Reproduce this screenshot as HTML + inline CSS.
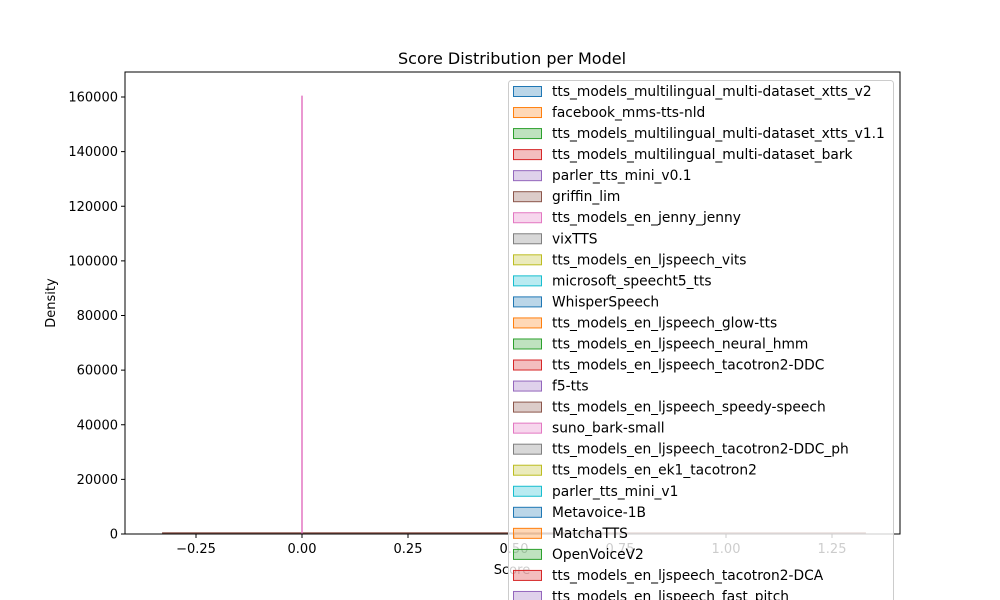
<!DOCTYPE html>
<html><head><meta charset="utf-8"><style>
html,body{margin:0;background:#fff;overflow:hidden;width:1000px;height:600px}
svg{font-family:"DejaVu Sans","Liberation Sans",sans-serif;display:block;overflow:hidden}
</style></head><body>
<svg id="chart" width="1000" height="600" viewBox="0 0 1000 600" xmlns="http://www.w3.org/2000/svg">
<rect width="1000" height="600" fill="#fff"/>
<text x="512" y="64" font-size="16" text-anchor="middle">Score Distribution per Model</text>
<g id="plot"></g>
<text x="512" y="574" font-size="13" text-anchor="middle">Score</text>
<text x="55" y="303" font-size="13" text-anchor="middle" transform="rotate(-90 55 303)">Density</text>
<g id="legend"></g>
</svg>
<script>
const models=["tts_models_multilingual_multi-dataset_xtts_v2","facebook_mms-tts-nld","tts_models_multilingual_multi-dataset_xtts_v1.1","tts_models_multilingual_multi-dataset_bark","parler_tts_mini_v0.1","griffin_lim","tts_models_en_jenny_jenny","vixTTS","tts_models_en_ljspeech_vits","microsoft_speecht5_tts","WhisperSpeech","tts_models_en_ljspeech_glow-tts","tts_models_en_ljspeech_neural_hmm","tts_models_en_ljspeech_tacotron2-DDC","f5-tts","tts_models_en_ljspeech_speedy-speech","suno_bark-small","tts_models_en_ljspeech_tacotron2-DDC_ph","tts_models_en_ek1_tacotron2","parler_tts_mini_v1","Metavoice-1B","MatchaTTS","OpenVoiceV2","tts_models_en_ljspeech_tacotron2-DCA","tts_models_en_ljspeech_fast_pitch"];
const xTicks=[-0.25,0,0.25,0.5,0.75,1,1.25];
const yTicks=[0,20000,40000,60000,80000,100000,120000,140000,160000];
const spikeX=[0];
const spikeY=[160500];
const baseRange=[-0.33,1.33];
const colors=["#1f77b4","#ff7f0e","#2ca02c","#d62728","#9467bd","#8c564b","#e377c2","#7f7f7f","#bcbd22","#17becf"];
const L=125,R=900,T=72,B=534;
const xs=v=>302+v*424;
const ys=v=>534-v*(437/160000);
const NS="http://www.w3.org/2000/svg";
function mk(tag,attrs,parent){const e=document.createElementNS(NS,tag);for(const k in attrs)e.setAttribute(k,attrs[k]);parent.appendChild(e);return e;}
const plot=document.getElementById('plot');
const bl=mk('line',{x1:xs(baseRange[0]),x2:xs(baseRange[1]),y1:B-1,y2:B-1,stroke:'#8c564b','stroke-width':1.5},plot);


spikeX.forEach((v,i)=>{
 const s=mk('line',{x1:xs(v),x2:xs(v),y1:B,y2:ys(spikeY[i]),stroke:'#e377c2','stroke-width':1.5},plot);
 
 
});
const ax=mk('rect',{x:L,y:T,width:R-L,height:B-T,fill:'none',stroke:'#000','stroke-width':1},plot);


xTicks.forEach(v=>{
 const x=xs(v);
 const t=mk('line',{x1:x,x2:x,y1:B,y2:B+4,stroke:'#000'},plot);
 
 
 const lb=mk('text',{x:x,y:B+19,'font-size':13,'text-anchor':'middle'},plot);
 lb.textContent=v.toFixed(2).replace('-','\u2212');
 
 
});
yTicks.forEach(v=>{
 const y=ys(v);
 const t=mk('line',{x1:L-4,x2:L,y1:y,y2:y,stroke:'#000'},plot);
 
 
 const lb=mk('text',{x:L-7,y:y+4.5,'font-size':13,'text-anchor':'end'},plot);
 lb.textContent=String(v);
 
 
});
const lg=document.getElementById('legend');
const box=mk('rect',{x:508.5,y:80.5,width:385,height:530,rx:3,fill:'#fff','fill-opacity':0.8,stroke:'#ccc'},lg);


models.forEach((m,i)=>{
 const y=91+i*21.04;
 const c=colors[i%10];
 const sw=mk('rect',{x:513.5,y:y-4.5,width:28,height:10,fill:c,'fill-opacity':0.3,stroke:c},lg);
 
 
 const tx=mk('text',{x:552,y:y+5,'font-size':13.8},lg);
 tx.textContent=m;
 
 
});
</script>
</body></html>
